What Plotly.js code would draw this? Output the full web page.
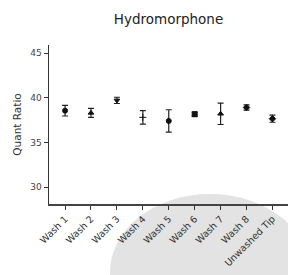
<!DOCTYPE html>
<html>
<head>
<meta charset="utf-8">
<script src="https://cdn.plot.ly/plotly-3.0.1.min.js"></script>
<style>
html,body{margin:0;padding:0;background:#fff;}
#wrap{position:relative;width:288px;height:275px;overflow:hidden;background:#fff;}
#blob{position:absolute;left:110px;top:194px;width:200px;height:156px;border-radius:50%;background:#e3e3e3;}
#chart{position:absolute;left:0;top:0;width:288px;height:275px;}
</style>
</head>
<body>
<div id="wrap"><div id="blob"></div><div id="chart"></div></div>
<script>
const categories = ["Wash 1","Wash 2","Wash 3","Wash 4","Wash 5","Wash 6","Wash 7","Wash 8","Unwashed Tip"];
const quantRatio = [38.55, 38.3, 39.7, 37.8, 37.4, 38.15, 38.2, 38.9, 37.65];
const errorSD = [0.6, 0.5, 0.35, 0.75, 1.25, 0.25, 1.2, 0.3, 0.4];
const symbols = ["circle","triangle-up","triangle-down","cross-thin-open","circle","square","triangle-up","diamond","diamond"];

const font = "DejaVu Sans, Liberation Sans, Arial, sans-serif";

const trace = {
  x: categories,
  y: quantRatio,
  type: "scatter",
  mode: "markers",
  marker: {symbol: symbols, size: 5, color: "#111", line: {color: "#111", width: 1}},
  error_y: {type: "data", array: errorSD, visible: true, color: "#222", thickness: 1.2, width: 3},
  hoverinfo: "skip"
};

const layout = {
  width: 288, height: 275,
  margin: {l: 49, r: 0, t: 45, b: 71},
  paper_bgcolor: "rgba(0,0,0,0)", plot_bgcolor: "rgba(0,0,0,0)",
  showlegend: false,
  title: {text: "Hydromorphone", font: {family: font, size: 13.5, color: "#222"}, x: 0.5, xref: "paper", y: 0.93, yref: "container", yanchor: "middle"},
  xaxis: {
    range: [-0.62, 8.6], showgrid: false, zeroline: false, automargin: false,
    showline: true, linecolor: "#444", linewidth: 1.8,
    ticks: "outside", ticklen: 4, tickwidth: 1, tickcolor: "#333",
    tickangle: -45, tickfont: {family: font, size: 9.5, color: "#333"}
  },
  yaxis: {
    range: [28.1, 45.9], showgrid: false, zeroline: false, automargin: false,
    showline: true, linecolor: "#333", linewidth: 1.5,
    ticks: "outside", ticklen: 4, tickwidth: 1, tickcolor: "#333",
    tickvals: [30, 35, 40, 45], ticktext: ["30","35","40","45"],
    tickfont: {family: font, size: 9, color: "#444"},
    title: {text: "Quant Ratio", font: {family: font, size: 10.5, color: "#333"}, standoff: 6}
  }
};

Plotly.newPlot("chart", [trace], layout, {displayModeBar: false, staticPlot: true});
</script>
</body>
</html>
